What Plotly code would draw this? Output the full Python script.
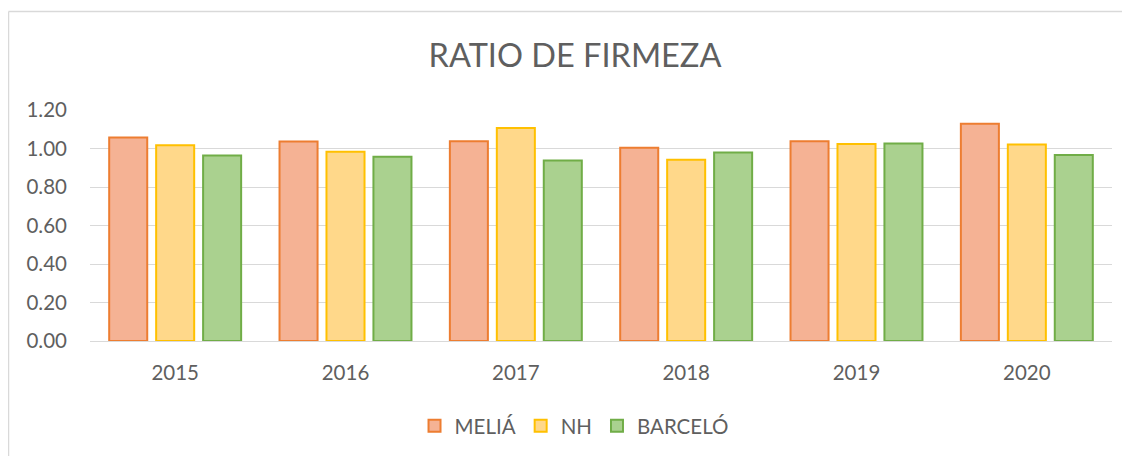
import plotly.graph_objects as go

years = ["2015", "2016", "2017", "2018", "2019", "2020"]
melia = [1.057, 1.036, 1.038, 1.004, 1.038, 1.128]
nh = [1.017, 0.983, 1.107, 0.942, 1.024, 1.021]
barcelo = [0.964, 0.957, 0.938, 0.979, 1.026, 0.966]
yticks = [0.0, 0.2, 0.4, 0.6, 0.8, 1.0, 1.2]

series = [
    ("MELIÁ", melia, "#F5B294", "#ED7D31"),
    ("NH", nh, "#FFD88A", "#FFC000"),
    ("BARCELÓ", barcelo, "#AAD18F", "#70AD47"),
]

W, H = 1122, 448
L, R, T, B = 82, 18, 102, 114
PW, PH = W - L - R, H - T - B

fig = go.Figure()
for name, vals, fill, line in series:
    fig.add_trace(go.Bar(
        x=years, y=vals, name=name,
        marker=dict(color=fill, line=dict(color=line, width=2)),
    ))

font = "Lato, 'Open Sans', sans-serif"
txt = "#5f5f5f"
fig.update_layout(
    width=W, height=H,
    margin=dict(l=L, r=R, t=T, b=B),
    paper_bgcolor="white", plot_bgcolor="white",
    barmode="group", bargap=0.173, bargroupgap=0.19,
    font=dict(family=font, color=txt, size=20.5),
    title=dict(text="RATIO DE FIRMEZA", x=567 / W, xanchor="center",
               y=1 - 48 / H, yanchor="middle",
               font=dict(size=32.5, color=txt, family=font)),
    showlegend=True,
    legend=dict(orientation="h", x=0.4736, xanchor="center", xref="paper",
                y=-0.362, yanchor="middle", font=dict(size=20.5, color=txt),
                itemwidth=30, traceorder="normal"),
    xaxis=dict(showgrid=False, showline=True, linecolor="#D9D9D9", linewidth=1,
               ticks="", ticklabelstandoff=13, tickfont=dict(size=20.5, color=txt)),
    yaxis=dict(range=[0, 1.2], tickvals=yticks, tickformat=".2f",
               showgrid=True, gridcolor="#D9D9D9", gridwidth=1, zeroline=False,
               showline=False, ticks="", ticklabelstandoff=22,
               tickfont=dict(size=20.5, color=txt)),
    shapes=[
        dict(type="line", xref="paper", yref="paper",
             x0=(0.5 - L) / PW, x1=1 + (R + 20) / PW,
             y0=1 + (T - 3) / PH, y1=1 + (T - 3) / PH,
             line=dict(color="#D9D9D9", width=1.5), layer="below"),
        dict(type="line", xref="paper", yref="paper",
             x0=(0.5 - L) / PW, x1=(0.5 - L) / PW,
             y0=1 + (T - 3) / PH, y1=-(B + 20) / PH,
             line=dict(color="#D9D9D9", width=1.5), layer="below"),
    ],
)

fig.write_html("out.html")
